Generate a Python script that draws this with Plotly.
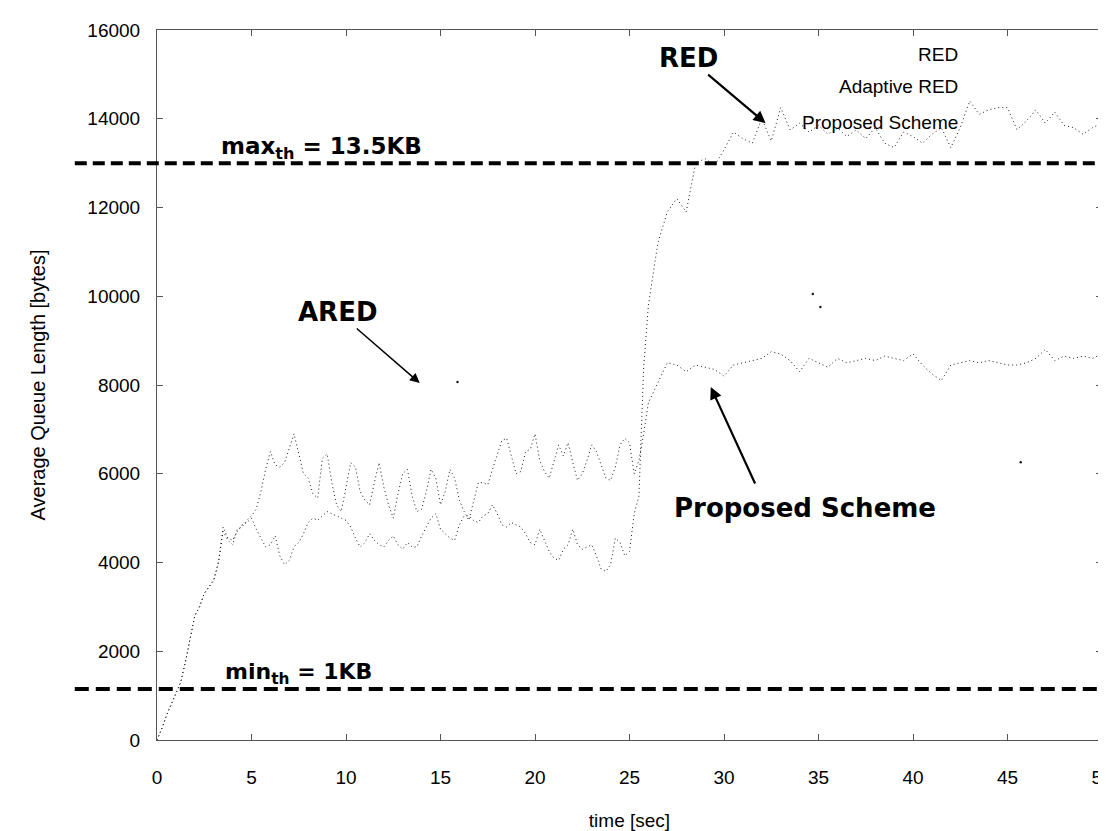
import plotly.graph_objects as go

# ---------------- data ----------------
# time grid [sec]: 0.25 s steps up to 26 s, then 0.5 s steps up to 50 s
time_fine = [i * 0.25 for i in range(105)]
time_coarse = [26.5 + i * 0.5 for i in range(48)]
time_sec = time_fine + time_coarse

proposed_fine = [
    0, 250, 550, 800, 1050, 1300, 1750, 2300, 2800, 3000, 3300, 3450, 3600,
    4000, 4700, 4500, 4400, 4750, 4800, 4950, 5050, 5200, 5600, 6100, 6500,
    6200, 6150, 6250, 6600, 6900, 6450, 6000, 5900, 5550, 5450, 6350, 6450,
    5800, 5300, 5150, 5700, 6250, 6150, 5600, 5400, 5300, 5800, 6250, 5700,
    5300, 5000, 5550, 6000, 6100, 5500, 5150, 5200, 5600, 6100, 5900, 5300,
    5600, 6100, 5900, 5400, 5150, 4950, 5400, 5800, 5800, 5750, 6100, 6450,
    6750, 6800, 6400, 6000, 6050, 6500, 6550, 6900, 6300, 6050, 5900, 6300,
    6650, 6400, 6700, 6250, 5850, 6000, 6300, 6650, 6500, 6200, 5900, 5850,
    6150, 6650, 6800, 6700, 6000, 6300, 6900, 7600,
]
proposed_coarse = [
    8050, 8500, 8450, 8300, 8450, 8400, 8350, 8200, 8450, 8500, 8550, 8600,
    8750, 8700, 8550, 8300, 8600, 8500, 8400, 8600, 8500, 8550, 8600, 8550,
    8650, 8600, 8550, 8700, 8450, 8250, 8100, 8450, 8500, 8550, 8500, 8550,
    8500, 8450, 8450, 8500, 8600, 8800, 8550, 8650, 8600, 8650, 8600, 8700,
]
red_fine = [
    0, 250, 550, 800, 1050, 1300, 1750, 2300, 2800, 3000, 3300, 3450, 3600,
    4000, 4800, 4550, 4500, 4700, 4850, 4900, 5000, 4750, 4550, 4350, 4400,
    4600, 4150, 3950, 4050, 4350, 4450, 4650, 4900, 5000, 4950, 5050, 5150,
    5100, 5050, 5000, 4950, 4800, 4550, 4350, 4450, 4650, 4500, 4400, 4350,
    4500, 4600, 4400, 4300, 4450, 4350, 4350, 4600, 4800, 5000, 5100, 4750,
    4650, 4550, 4500, 4850, 5050, 5050, 4950, 4900, 5050, 5100, 5300, 5100,
    4850, 4800, 4900, 4850, 4800, 4650, 4450, 4400, 4750, 4500, 4250, 4100,
    4050, 4300, 4400, 4750, 4400, 4300, 4350, 4400, 4150, 3850, 3800, 3950,
    4550, 4450, 4150, 4250, 5100, 5500, 8400, 9800,
]
red_coarse = [
    11200, 11900, 12200, 11900, 13000, 13100, 12950, 13300, 13700, 13550,
    13450, 14000, 13500, 14250, 13750, 13900, 13700, 13850, 13650, 13800,
    13600, 13750, 13550, 13800, 13450, 13350, 13700, 13600, 13450, 13650,
    13800, 13350, 13800, 14400, 14100, 14200, 14250, 14250, 13750, 13950,
    14200, 13900, 14150, 13850, 13800, 13650, 13800, 13900,
]
proposed_values = proposed_fine + proposed_coarse
red_values = red_fine + red_coarse

# Adaptive RED: only a few isolated points survive in the picture
ared_time = [15.9, 34.7, 35.1, 45.7]
ared_values = [8070, 10050, 9760, 6260]

max_th_level = 13000
min_th_level = 1150

x_ticks = [0, 5, 10, 15, 20, 25, 30, 35, 40, 45, 50]
y_ticks = [0, 2000, 4000, 6000, 8000, 10000, 12000, 14000, 16000]
legend_names = ["RED", "Adaptive RED", "Proposed Scheme"]

# ---------------- figure ----------------
# (the html page adds an 8px body margin, so the figure is sized/offset for it)
AX_FONT = "Liberation Sans, Arial, sans-serif"
BOLD_FONT = "DejaVu Sans, Arial, sans-serif"
line_style = dict(color="#1a1a1a", width=1, dash="1px,3px")

fig = go.Figure()
fig.add_trace(go.Scatter(x=time_sec, y=red_values, name=legend_names[0],
                         mode="lines", line=line_style, showlegend=False))
fig.add_trace(go.Scatter(x=ared_time, y=ared_values, name=legend_names[1],
                         mode="markers", marker=dict(color="#1a1a1a", size=2.5),
                         showlegend=False))
fig.add_trace(go.Scatter(x=time_sec, y=proposed_values, name=legend_names[2],
                         mode="lines", line=line_style, showlegend=False))

# threshold lines (extend to the left of the plot area like the original)
for level, dash in [(max_th_level, "12px,6px"), (min_th_level, "14px,7px")]:
    fig.add_shape(type="line", xref="paper", yref="y", x0=-0.087, x1=1.0,
                  y0=level, y1=level,
                  line=dict(color="black", width=4, dash=dash))

annotations = []
# legend text (right aligned, no visible symbols in the original)
for name, ypos in zip(legend_names, [0.965, 0.920, 0.870]):
    annotations.append(dict(text=name, xref="paper", yref="paper",
                            x=0.85, y=ypos, xanchor="right", yanchor="middle",
                            showarrow=False,
                            font=dict(family=AX_FONT, size=19, color="black")))

bold26 = dict(family=BOLD_FONT, size=26, color="black")
annotations += [
    # labels with arrows pointing at the curves
    dict(text="<b>RED</b>", x=32.2, y=13900, xref="x", yref="y", ax=-77, ay=-65,
         showarrow=True, arrowhead=2, arrowsize=1.1, arrowwidth=2.2,
         arrowcolor="black", font=bold26),
    dict(text="<b>ARED</b>", x=13.9, y=8045, xref="x", yref="y", ax=-82, ay=-71,
         showarrow=True, arrowhead=2, arrowsize=1.3, arrowwidth=1.5,
         arrowcolor="black", font=bold26),
    dict(text="<b>Proposed Scheme</b>", x=34.3, y=5230, xref="x", yref="y",
         showarrow=False, font=bold26),
    dict(text="", x=29.3, y=7955, xref="x", yref="y", ax=45, ay=98,
         showarrow=True, arrowhead=2, arrowsize=1.1, arrowwidth=2.2,
         arrowcolor="black"),
    # threshold labels
    dict(text="<b>max<sub>th</sub> = 13.5KB</b>", x=8.7, y=13330, xref="x", yref="y",
         showarrow=False, font=dict(family=BOLD_FONT, size=23, color="black")),
    dict(text="<b>min<sub>th</sub> = 1KB</b>", x=7.5, y=1500, xref="x", yref="y",
         showarrow=False, font=dict(family=BOLD_FONT, size=22, color="black")),
]

fig.update_layout(
    width=1098, height=823,
    margin=dict(l=149, r=4, t=22, b=91, autoexpand=False),
    paper_bgcolor="white", plot_bgcolor="white",
    font=dict(family=AX_FONT, size=19, color="black"),
    annotations=annotations,
)
fig.update_xaxes(
    range=[0, 50], tickvals=x_ticks, ticktext=[str(v) for v in x_ticks],
    showgrid=False, zeroline=False,
    showline=True, linecolor="#555", linewidth=1, mirror="allticks",
    ticks="inside", ticklen=6, tickcolor="#555",
    ticklabelstandoff=20, ticklabeloverflow="allow", tickfont=dict(size=19),
    title=dict(text="time [sec]", font=dict(size=19), standoff=27),
    automargin=False,
)
fig.update_yaxes(
    range=[0, 16000], tickvals=y_ticks, ticktext=[str(v) for v in y_ticks],
    showgrid=False, zeroline=False,
    showline=True, linecolor="#555", linewidth=1, mirror="allticks",
    ticks="inside", ticklen=6, tickcolor="#555",
    ticklabelstandoff=12, tickfont=dict(size=19),
    title=dict(text="Average Queue Length [bytes]", font=dict(size=20), standoff=36),
    automargin=False,
)

fig.write_html("out.html")
